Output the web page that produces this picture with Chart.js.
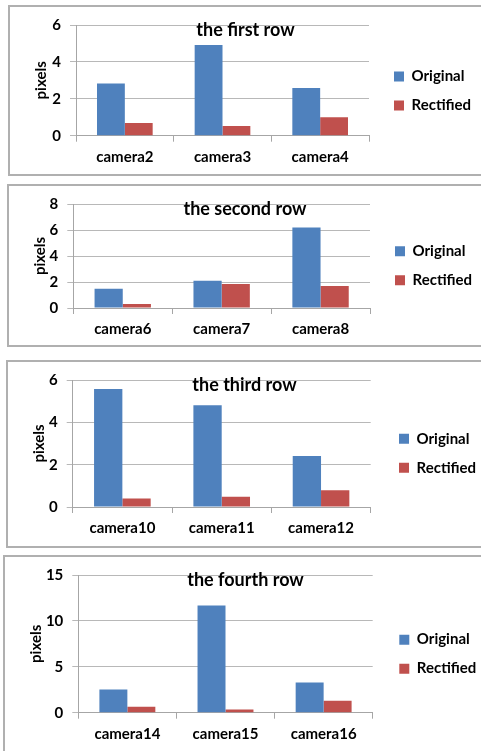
<!DOCTYPE html>
<html><head><meta charset="utf-8">
<script src="https://cdn.jsdelivr.net/npm/chart.js@4.4.1/dist/chart.umd.min.js"></script>
<style>
html,body{margin:0;padding:0;background:#fff;overflow:hidden;width:481px;height:751px;}
.panel{position:absolute;border:2px solid #b0b0b0;background:#fff;box-sizing:border-box;}
.panel canvas{display:block;}
</style></head><body>
<div class="panel" style="left:8px;top:5px;width:475px;height:171px"><canvas id="c0" width="471" height="167"></canvas></div>
<div class="panel" style="left:7px;top:184px;width:476px;height:163px"><canvas id="c1" width="472" height="159"></canvas></div>
<div class="panel" style="left:6px;top:360px;width:477px;height:188px"><canvas id="c2" width="473" height="184"></canvas></div>
<div class="panel" style="left:3px;top:555px;width:488px;height:198px"><canvas id="c3" width="484" height="194"></canvas></div>
<script>
// ---- data ----
const seriesNames = ['Original', 'Rectified'];
const chartTitles = ['the first row', 'the second row', 'the third row', 'the fourth row'];
const yAxisTitle = 'pixels';

const row1Cameras = ['camera2', 'camera3', 'camera4'];
const row1Original = [2.83, 4.91, 2.58];
const row1Rectified = [0.69, 0.52, 1.0];

const row2Cameras = ['camera6', 'camera7', 'camera8'];
const row2Original = [1.48, 2.1, 6.2];
const row2Rectified = [0.3, 1.85, 1.7];

const row3Cameras = ['camera10', 'camera11', 'camera12'];
const row3Original = [5.58, 4.81, 2.41];
const row3Rectified = [0.4, 0.48, 0.79];

const row4Cameras = ['camera14', 'camera15', 'camera16'];
const row4Original = [2.54, 11.67, 3.3];
const row4Rectified = [0.64, 0.36, 1.29];

const yMaxes = [6, 8, 6, 15];
const ySteps = [2, 2, 2, 5];

// ---- styling / layout ----
const FONT = 'Lato';
const BLUE = '#4f81bd';
const RED = '#c0504d';
const GRID = '#b8b8b8';
const AXIS = '#a6a6a6';
const LEG_FONT = 15, LEG_BOX = 10, LEG_PAD = 14;

// target geometry in canvas coordinates
const layouts = [
  {W: 471, axisX: 66.0, chartRight: 359.0, gap: 11.0, titleCenter: 235.5, padTop: 2.7, padBottom: 1.7, titlePadTop: 8.3},
  {W: 472, axisX: 64.3, chartRight: 361.0, gap: 11.0, titleCenter: 236.0, padTop: 1.1, padBottom: 0.4, titlePadTop: 8.9},
  {W: 473, axisX: 64.7, chartRight: 362.7, gap: 14.3, titleCenter: 236.5, padTop: 1.0, padBottom: 2.4, titlePadTop: 9.0},
  {W: 484, axisX: 73.3, chartRight: 367.7, gap: 12.6, titleCenter: 240.5, padTop: 2.0, padBottom: 1.7, titlePadTop: 8.7}
];

const mctx = document.createElement('canvas').getContext('2d');
mctx.font = 'bold ' + LEG_FONT + 'px ' + FONT;
const maxLegText = Math.max(...seriesNames.map(s => mctx.measureText(s).width));
const legendW = LEG_PAD + LEG_BOX + LEG_FONT / 2 + maxLegText + 10;

const rows = [
  [row1Cameras, row1Original, row1Rectified],
  [row2Cameras, row2Original, row2Rectified],
  [row3Cameras, row3Original, row3Rectified],
  [row4Cameras, row4Original, row4Rectified]
];

rows.forEach(([cats, orig, rect], i) => {
  const L = layouts[i];
  const R = L.chartRight + L.gap + legendW;
  const padRight = L.W - R;
  const padLeft = 2 * L.titleCenter - R;
  const yWidth = L.axisX - padLeft;
  const yTitlePad = 31.4 - 9 - padLeft;
  new Chart(document.getElementById('c' + i), {
    type: 'bar',
    data: {
      labels: cats,
      datasets: [
        {label: seriesNames[0], data: orig, backgroundColor: BLUE, borderWidth: 0, yAxisID: 'y'},
        {label: seriesNames[1], data: rect, backgroundColor: RED, borderWidth: 0, yAxisID: 'y'}
      ]
    },
    options: {
      responsive: false,
      animation: false,
      devicePixelRatio: 1,
      datasets: {bar: {categoryPercentage: 0.57, barPercentage: 1.0}},
      layout: {padding: {left: padLeft, right: padRight, top: L.padTop, bottom: L.padBottom}},
      plugins: {
        tooltip: {enabled: false},
        title: {
          display: true,
          text: chartTitles[i],
          color: '#000',
          font: {family: FONT, size: 18, weight: 'bold'},
          padding: {top: L.titlePadTop, bottom: -16.3}
        },
        legend: {
          position: 'right',
          align: 'center',
          labels: {
            boxWidth: LEG_BOX, boxHeight: LEG_BOX, padding: LEG_PAD,
            color: '#000',
            font: {family: FONT, size: LEG_FONT, weight: 'bold'}
          }
        }
      },
      scales: {
        x: {
          grid: {display: true, drawOnChartArea: false, drawTicks: true, tickLength: 6, color: AXIS, offset: true},
          border: {display: true, color: AXIS, width: 1},
          ticks: {color: '#000', padding: 6.3, font: {family: FONT, size: 15, weight: 'bold'}, maxRotation: 0}
        },
        y: {
          min: 0, max: yMaxes[i],
          afterFit: s => { s.width = yWidth; },
          grid: {color: GRID, tickLength: 6, drawTicks: true},
          border: {display: true, color: AXIS, width: 1},
          ticks: {stepSize: ySteps[i], color: '#000', padding: 9, font: {family: FONT, size: 15, weight: 'bold'}},
          title: {display: true, text: yAxisTitle, color: '#000', font: {family: FONT, size: 15, weight: 'bold'}, padding: {top: yTitlePad, bottom: 4}}
        },
        gap: {
          position: 'right',
          display: false,
          afterFit: s => { s.width = L.gap; }
        }
      }
    }
  });
});
</script>
</body></html>
